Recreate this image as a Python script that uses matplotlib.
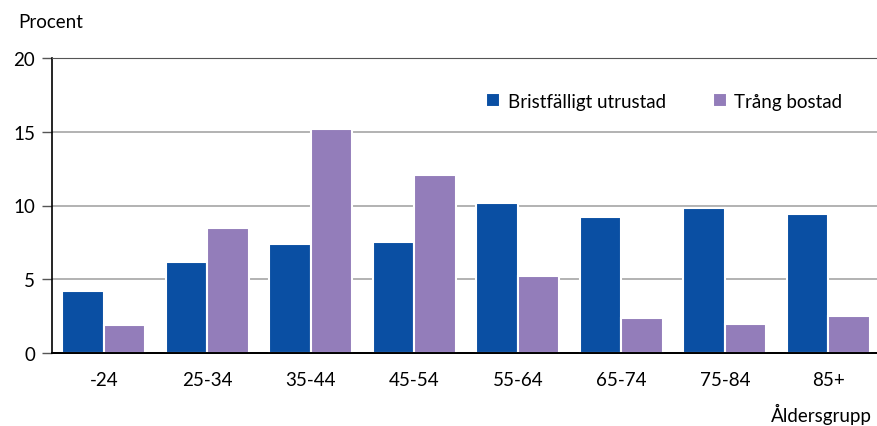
import numpy as np
import matplotlib.pyplot as plt

plt.rcParams['font.family'] = ['Lato', 'DejaVu Sans']

# data
groups = ['-24', '25-34', '35-44', '45-54', '55-64', '65-74', '75-84', '85+']
bristfallig = [4.2, 6.2, 7.4, 7.5, 10.2, 9.2, 9.8, 9.4]
trang = [1.9, 8.5, 15.2, 12.1, 5.2, 2.4, 2.0, 2.5]

blue = '#0A4FA3'
purple = '#937DBA'
fs = 13.5

fig = plt.figure(figsize=(8.77, 4.27), dpi=100)
ax = fig.add_axes([52/877, 1-354/427, 828/877, 295/427])

x = np.arange(len(groups))
w = 0.4
ax.bar(x - w/2, bristfallig, w, color=blue, edgecolor='white', linewidth=1.5,
       label='Bristfälligt utrustad', zorder=3)
ax.bar(x + w/2, trang, w, color=purple, edgecolor='white', linewidth=1.5,
       label='Trång bostad', zorder=3)
ax.axhline(0, color='black', linewidth=1.4, zorder=4, clip_on=False)

ax.set_xlim(-0.5, len(groups) - 0.5)
ax.set_ylim(0, 20)
ax.set_yticks([0, 5, 10, 15, 20])
ax.set_xticks(x)
ax.set_xticklabels(groups)
ax.tick_params(axis='x', length=0, pad=13, labelsize=fs)
ax.tick_params(axis='y', length=7, width=1, color='#555555', pad=5, labelsize=fs)
ax.yaxis.grid(True, color='#A6A6A6', linewidth=1.2, zorder=0)

ax.spines['right'].set_visible(False)
ax.spines['top'].set_color('#555555')
ax.spines['left'].set_color('black')
ax.spines['bottom'].set_color('black')
ax.spines['bottom'].set_linewidth(1.2)
ax.spines['left'].set_linewidth(1.2)

fig.text(18/877, 1-22/427, 'Procent', fontsize=fs, va='center', ha='left')
fig.text(872/877, 1-414/427, 'Åldersgrupp', fontsize=fs, va='center', ha='right')

ax.legend(loc='upper right', bbox_to_anchor=(0.975, 0.94), ncol=2, frameon=False,
          fontsize=fs, handlelength=0.75, handleheight=0.75, handletextpad=0.4,
          columnspacing=2.5)

plt.savefig('out.png', dpi=100)
